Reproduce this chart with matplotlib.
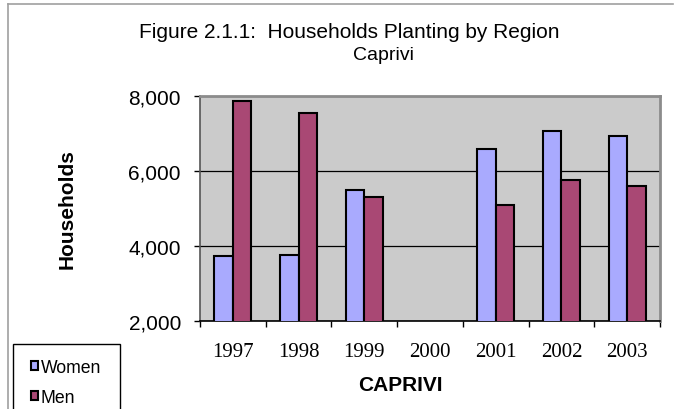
import matplotlib
matplotlib.use("Agg")
import matplotlib.pyplot as plt
from matplotlib.patches import Patch, Rectangle
from matplotlib.lines import Line2D
from matplotlib.ticker import FuncFormatter
import numpy as np

# data (2000 has no bars)
years = ["1997", "1998", "1999", "2000", "2001", "2002", "2003"]
women = [3740, 3770, 5500, np.nan, 6590, 7060, 6940]
men = [7860, 7550, 5300, np.nan, 5090, 5770, 5610]
series_names = ["Women", "Men"]
colors = ["#A9AAFE", "#A94874"]

W, H = 674, 410
fig = plt.figure(figsize=(W / 100, H / 100), dpi=100)

def fx(px):
    return px / W

def fy(py):
    return 1 - py / H

# outer chart frame (top and left edges visible)
fig.add_artist(Line2D([fx(8), fx(673)], [fy(5), fy(5)], color="#A0A0A0", lw=1.2))
fig.add_artist(Line2D([fx(8), fx(8)], [fy(5), fy(410)], color="#A0A0A0", lw=1.2))

ax = fig.add_axes([fx(200), fy(322), fx(660) - fx(200), (322 - 97) / H])
ax.set_facecolor("#CBCBCB")

x = np.arange(len(years))
bw = 0.28
ax.bar(x - bw / 2, women, bw, color=colors[0], edgecolor="black", linewidth=1.5, zorder=3)
ax.bar(x + bw / 2, men, bw, color=colors[1], edgecolor="black", linewidth=1.5, zorder=3)

ax.set_ylim(2000, 8000)
ax.set_xlim(-0.5, len(years) - 0.5)
ax.set_yticks([2000, 4000, 6000, 8000])
ax.yaxis.set_major_formatter(FuncFormatter(lambda v, p: f"{int(v):,}"))
ax.tick_params(axis="y", labelsize=15, length=4.3, width=1, pad=9.4, colors="black")
for lab in ax.get_yticklabels():
    lab.set_family("Liberation Sans")

ax.set_xticks(x)
ax.set_xticklabels(years, family="Liberation Serif", fontsize=15)
ax.set_xticks(np.arange(-0.5, len(years)), minor=True)
ax.tick_params(axis="x", which="major", length=0, pad=15)
ax.tick_params(axis="x", which="minor", length=4.3, width=1)

ax.grid(axis="y", color="black", lw=0.9, zorder=1)
for s in ["top", "right"]:
    ax.spines[s].set_color("#8C8C8C")
    ax.spines[s].set_linewidth(2)
ax.spines["left"].set_color("#555555")
ax.spines["left"].set_linewidth(1.2)
ax.spines["bottom"].set_color("black")
ax.spines["bottom"].set_linewidth(1.2)

fig.text(fx(349), fy(38), "Figure 2.1.1:  Households Planting by Region", ha="center", va="baseline",
         family="Liberation Sans", fontsize=15)
fig.text(fx(383), fy(60), "Caprivi", ha="center", va="baseline", family="Liberation Sans", fontsize=14)
fig.text(fx(67), fy(209), "Households", rotation=90, ha="center", va="center",
         family="Liberation Sans", fontsize=15, fontweight="bold")
fig.text(fx(400), fy(386), "CAPRIVI", ha="center", va="center",
         family="Liberation Sans", fontsize=15, fontweight="bold")

# legend box at the bottom left, cut by the lower edge
fig.add_artist(Rectangle((fx(13), fy(415)), fx(120) - fx(13), (415 - 345) / H,
                         transform=fig.transFigure, facecolor="white", edgecolor="black", lw=1))
handles = [Patch(facecolor=c, edgecolor="black", linewidth=1.5) for c in colors]
leg = fig.legend(handles, series_names, loc="upper left", bbox_to_anchor=(fx(31), fy(360)),
                 frameon=False, handlelength=0.4, handleheight=0.4, handletextpad=0.15,
                 labelspacing=0.75, borderpad=0, borderaxespad=0,
                 prop={"family": "Liberation Sans", "size": 12.7})

fig.savefig("out.png", dpi=100)
